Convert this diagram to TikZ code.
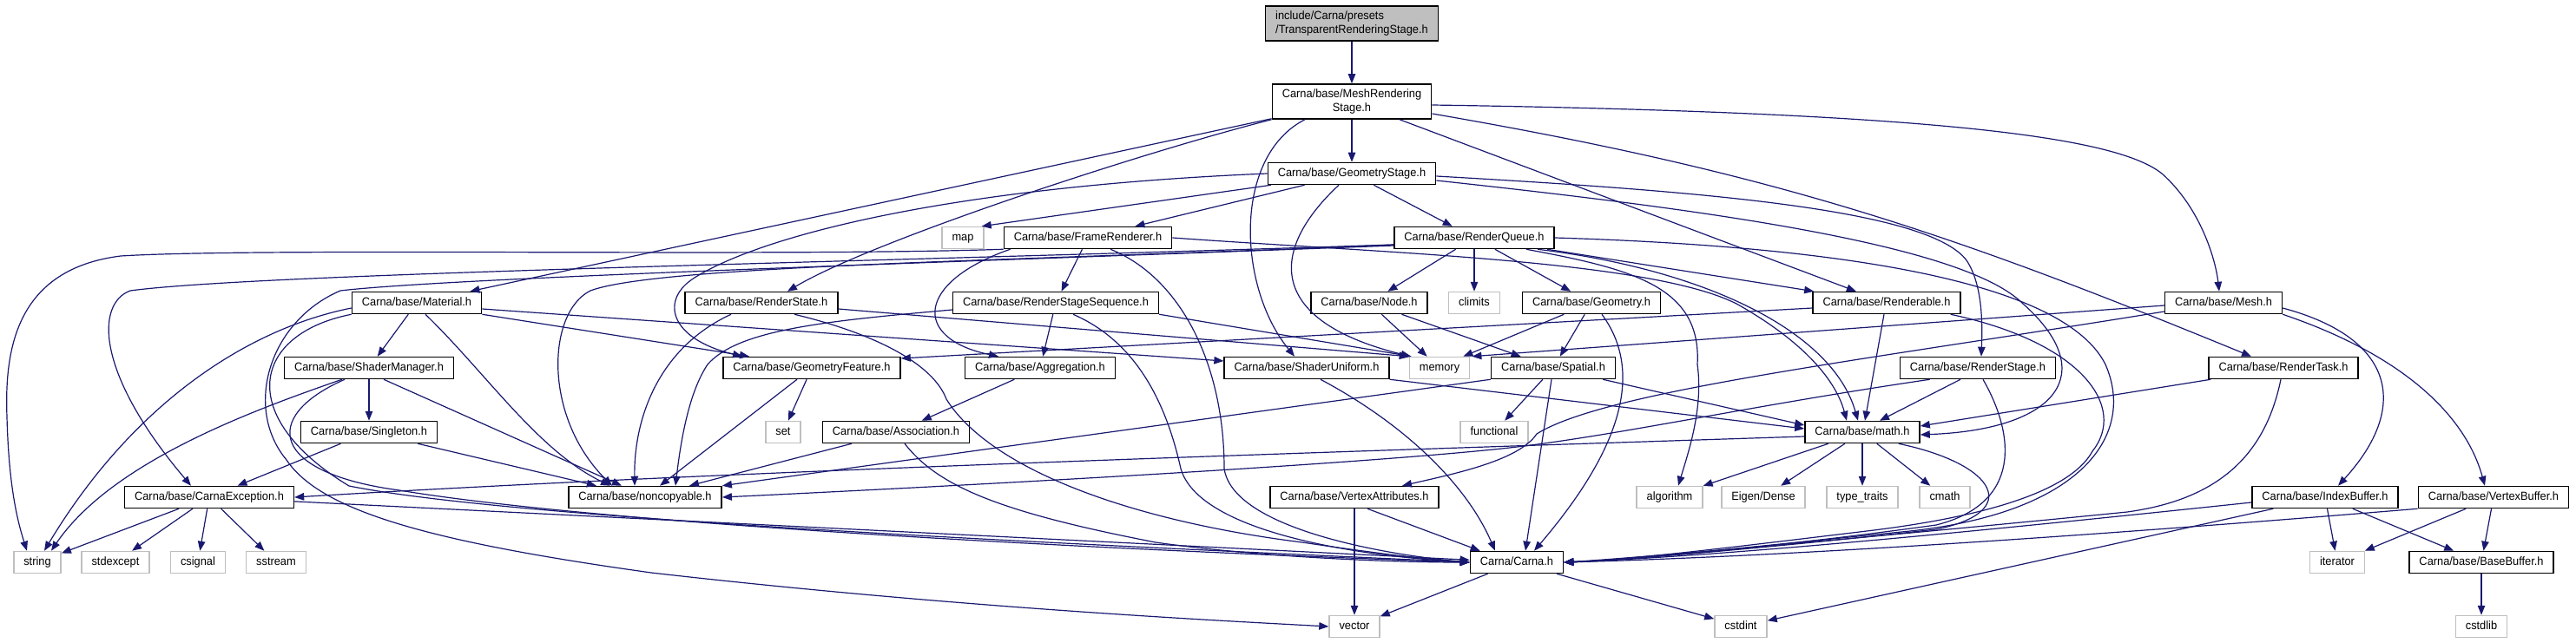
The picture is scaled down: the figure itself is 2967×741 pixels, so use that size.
\documentclass[tikz,border=0pt]{standalone}
\usepackage{fontspec}
\setmainfont[FakeStretch=0.95]{Liberation Sans}
\usetikzlibrary{arrows.meta,calc}
\definecolor{edgecol}{HTML}{191970}
\definecolor{syscol}{HTML}{BFBFBF}
\definecolor{rootfill}{HTML}{BFBFBF}
\tikzset{
 box/.style={draw=black, fill=white, line width=1.5pt, inner xsep=11.5pt, inner ysep=0pt, minimum height=25pt, font=\fontsize{13.5}{15.5}\selectfont},
 hdr/.style={box, text height=9.9pt, text depth=2.8pt},
 sys/.style={hdr, draw=syscol},
 two/.style={box, minimum height=40pt, inner ysep=3pt},
 dep/.style={draw=edgecol, line width=1.2pt, -{Triangle[length=11pt,width=8.5pt]}}
}
\begin{document}
\begin{tikzpicture}[x=1pt,y=-1pt]
\fill[white] (0,0) rectangle (2967,741);
\useasboundingbox (0,0) rectangle (2967,741);
% nodes
\node[two,fill=rootfill,align=left] (trs) at (1557,27) {include/Carna/presets\\/TransparentRenderingStage.h};
\node[two,align=center] (mrs) at (1557,117) {Carna/base/MeshRendering\\Stage.h};
\node[hdr] (gs) at (1557,200) {Carna/base/GeometryStage.h};
\node[sys] (map) at (1109,274) {map};
\node[hdr] (fr) at (1253,274) {Carna/base/FrameRenderer.h};
\node[hdr] (rq) at (1698,274) {Carna/base/RenderQueue.h};
\node[hdr] (mat) at (480,349) {Carna/base/Material.h};
\node[hdr] (rstate) at (877,349) {Carna/base/RenderState.h};
\node[hdr] (rss) at (1216,349) {Carna/base/RenderStageSequence.h};
\node[hdr] (nodeh) at (1577,349) {Carna/base/Node.h};
\node[sys] (climits) at (1698,349) {climits};
\node[hdr] (geom) at (1833,349) {Carna/base/Geometry.h};
\node[hdr] (rend) at (2173,349) {Carna/base/Renderable.h};
\node[hdr] (mesh) at (2561,349) {Carna/base/Mesh.h};
\node[hdr] (shm) at (425,424) {Carna/base/ShaderManager.h};
\node[hdr] (gf) at (935,424) {Carna/base/GeometryFeature.h};
\node[hdr] (agg) at (1198,424) {Carna/base/Aggregation.h};
\node[hdr] (su) at (1505,424) {Carna/base/ShaderUniform.h};
\node[sys] (memory) at (1658,424) {memory};
\node[hdr] (spatial) at (1789,424) {Carna/base/Spatial.h};
\node[hdr] (rstage) at (2278,424) {Carna/base/RenderStage.h};
\node[hdr] (rtask) at (2630,424) {Carna/base/RenderTask.h};
\node[hdr] (single) at (425,498) {Carna/base/Singleton.h};
\node[sys] (set) at (902,498) {set};
\node[hdr] (assoc) at (1032,498) {Carna/base/Association.h};
\node[sys] (functional) at (1721,498) {functional};
\node[hdr] (math) at (2145,498) {Carna/base/math.h};
\node[hdr] (cex) at (241,573) {Carna/base/CarnaException.h};
\node[hdr] (nonc) at (743,573) {Carna/base/noncopyable.h};
\node[hdr] (va) at (1560,573) {Carna/base/VertexAttributes.h};
\node[sys] (algo) at (1923,573) {algorithm};
\node[sys] (eigen) at (2031,573) {Eigen/Dense};
\node[sys] (tt) at (2145,573) {type\_traits};
\node[sys] (cmath) at (2240,573) {cmath};
\node[hdr] (ib) at (2678,573) {Carna/base/IndexBuffer.h};
\node[hdr] (vb) at (2872,573) {Carna/base/VertexBuffer.h};
\node[sys] (string) at (43,648) {string};
\node[sys] (stdexcept) at (133,648) {stdexcept};
\node[sys] (csignal) at (228,648) {csignal};
\node[sys] (sstream) at (318,648) {sstream};
\node[hdr] (carna) at (1747,648) {Carna/Carna.h};
\node[sys] (iterator) at (2692,648) {iterator};
\node[hdr] (bb) at (2858,648) {Carna/base/BaseBuffer.h};
\node[sys] (vector) at (1560,722) {vector};
\node[sys] (cstdint) at (2005,722) {cstdint};
\node[sys] (cstdlib) at (2858,722) {cstdlib};
% MeshRenderingStage
\draw[dep] (trs) -- (mrs);
\draw[dep] (mrs) -- (gs);
\draw[dep] (mrs) -- (mat);
\draw[dep] (mrs.south west) .. controls (1300,180) and (1000,280) .. ($(rstate.north)+(30,0)$);
\draw[dep] ($(mrs.south)+(-54,0)$) .. controls (1420,180) and (1425,330) .. ($(su.north)+(-14,0)$);
\draw[dep] (mrs) -- (rend);
\draw[dep] ($(mrs.east)+(0,4)$) .. controls (2250,130) and (2440,160) .. (2490,200) .. controls (2535,240) and (2552,300) .. ($(mesh.north)+(-5,0)$);
\draw[dep] ($(mrs.east)+(0,14)$) .. controls (2050,200) and (2250,270) .. ($(rtask.north)+(-37,0)$);
% GeometryStage
\draw[dep] (gs) -- ($(map.north east)+(-3,0)$);
\draw[dep] (gs) -- (fr);
\draw[dep] (gs) -- (rq);
\draw[dep] ($(gs.south)+(-15,0)$) .. controls (1460,290) and (1460,370) .. ($(memory.north west)+(2,0)$);
\draw[dep] (gs.west) .. controls (1100,215) and (880,270) .. (800,320) .. controls (760,345) and (770,390) .. ($(gf.north)+(-80,0)$);
\draw[dep] ($(gs.east)+(0,3)$) .. controls (1950,220) and (2220,240) .. (2265,300) .. controls (2285,330) and (2283,380) .. ($(rstage.north)+(4,0)$);
\draw[dep] ($(gs.east)+(0,8)$) .. controls (1950,240) and (2260,280) .. (2330,350) .. controls (2420,430) and (2370,495) .. ($(math.east)+(0,3)$);
% FrameRenderer
\draw[dep] (fr) -- (rss);
\draw[dep] ($(fr.south west)+(8,0)$) .. controls (1055,325) and (1050,390) .. ($(agg.north)+(-48,0)$);
\draw[dep] ($(fr.south)+(26,0)$) .. controls (1360,320) and (1410,420) .. (1410,540) .. controls (1420,610) and (1600,640) .. (carna.west);
\draw[dep] (fr.east) .. controls (1600,292) and (1900,300) .. (2000,350) .. controls (2080,395) and (2115,440) .. ($(math.north)+(-18,0)$);
\draw[dep] (fr.south west) .. controls (900,296) and (300,285) .. (139,295) .. controls (20,310) and (5,400) .. (8,480) .. controls (10,560) and (20,600) .. ($(string.north)+(-12,0)$);
% RenderQueue
\draw[dep] (rq) -- (nodeh);
\draw[dep] (rq) -- (climits);
\draw[dep] (rq) -- (geom);
\draw[dep] (rq) -- (rend);
\draw[dep] ($(rq.south east)+(-20,0)$) .. controls (1960,310) and (2110,380) .. ($(math.north)+(-5,0)$);
\draw[dep] ($(rq.south east)+(-33,0)$) .. controls (1880,310) and (1960,330) .. (1955,420) .. controls (1962,470) and (1945,520) .. ($(algo.north)+(10,0)$);
\draw[dep] (rq.east) .. controls (2150,285) and (2380,330) .. (2425,420) .. controls (2460,500) and (2400,590) .. (2200,612) .. controls (2000,632) and (1880,645) .. (carna.east);
\draw[dep] ($(rq.west)+(0,8)$) .. controls (1200,300) and (760,305) .. (680,335) .. controls (630,360) and (625,480) .. ($(nonc.north)+(-38,0)$);
\draw[dep] ($(rq.west)+(0,8)$) .. controls (1000,302) and (300,315) .. (150,335) .. controls (110,350) and (110,430) .. ($(cex.north)+(-21,0)$);
\draw[dep] ($(rq.west)+(0,9)$) .. controls (1100,302) and (520,320) .. (392,335) .. controls (310,370) and (280,470) .. (330,530) .. controls (370,590) and (500,625) .. (750,660) .. controls (1100,700) and (1400,715) .. (vector.west);
% Material
\draw[dep] (mat) -- (shm);
\draw[dep] ($(mat.south)+(10,0)$) .. controls (560,430) and (620,520) .. ($(nonc.north)+(-40,0)$);
\draw[dep] ($(mat.west)+(0,6)$) .. controls (280,380) and (150,470) .. ($(string.north)+(8,0)$);
\draw[dep] (mat.south west) .. controls (290,385) and (270,480) .. (402,560) .. controls (600,600) and (1300,630) .. (carna.west);
\draw[dep] ($(mat.east)+(0,7)$) -- ($(su.west)+(0,-8)$);
\draw[dep] (mat.south east) -- ($(gf.north)+(-72,0)$);
% RenderState
\draw[dep] ($(rstate.south)+(-35,0)$) .. controls (760,400) and (730,480) .. ($(nonc.north)+(-12,0)$);
\draw[dep] ($(rstate.south)+(38,0)$) .. controls (1010,385) and (1075,420) .. (1090,460) .. controls (1140,540) and (1300,600) .. (1500,625) .. controls (1600,640) and (1660,646) .. (carna.west);
\draw[dep] ($(rstate.east)+(0,7)$) -- (memory.north west);
% RenderStageSequence
\draw[dep] (rss) -- (agg);
\draw[dep] ($(rss.west)+(0,8)$) .. controls (950,370) and (850,380) .. (815,420) .. controls (795,450) and (785,500) .. ($(nonc.north)+(35,0)$);
\draw[dep] (rss.south east) -- ($(memory.north west)+(3,0)$);
\draw[dep] ($(rss.south)+(20,0)$) .. controls (1300,390) and (1340,450) .. (1360,540) .. controls (1380,610) and (1550,640) .. (carna.west);
% Node, Geometry
\draw[dep] (nodeh) -- (memory);
\draw[dep] (nodeh) -- (spatial);
\draw[dep] (geom) -- ($(memory.north east)+(-8,0)$);
\draw[dep] (geom) -- (spatial);
\draw[dep] ($(geom.south)+(12,0)$) .. controls (1895,430) and (1865,520) .. ($(carna.north)+(20,0)$);
% Renderable
\draw[dep] ($(rend.west)+(0,6)$) -- ($(gf.east)+(0,-11)$);
\draw[dep] ($(rend.south)+(-3,0)$) -- ($(math.north)+(3,0)$);
\draw[dep] ($(rend.south east)+(-12,0)$) .. controls (2400,395) and (2450,470) .. (2410,520) .. controls (2380,575) and (2250,600) .. (2150,612) .. controls (2000,630) and (1880,645) .. (carna.east);
% Mesh
\draw[dep] ($(mesh.west)+(0,3)$) -- ($(memory.north east)+(2,0)$);
\draw[dep] ($(mesh.west)+(0,10)$) .. controls (2150,415) and (1850,450) .. (1770,500) .. controls (1750,530) and (1680,545) .. ($(va.north)+(55,0)$);
\draw[dep] ($(mesh.east)+(0,6)$) .. controls (2760,390) and (2775,470) .. ($(ib.north)+(15,0)$);
\draw[dep] (mesh.south east) .. controls (2770,410) and (2840,480) .. ($(vb.north)+(-10,0)$);
% ShaderManager
\draw[dep] (shm) -- (single);
\draw[dep] ($(shm.south west)+(67,0)$) .. controls (300,470) and (130,530) .. ($(string.north)+(16,0)$);
\draw[dep] ($(shm.south)+(17,0)$) -- ($(nonc.north)+(-27,0)$);
\draw[dep] ($(shm.south)+(-28,0)$) .. controls (300,480) and (310,545) .. (460,565) .. controls (700,605) and (1300,635) .. (carna.west);
% GeometryFeature, Aggregation
\draw[dep] (gf) -- (set);
\draw[dep] (gf) -- (nonc);
\draw[dep] (agg) -- (assoc);
% ShaderUniform
\draw[dep] (su.south east) -- ($(math.west)+(0,-4)$);
\draw[dep] ($(su.south)+(16,0)$) .. controls (1620,490) and (1690,560) .. ($(carna.north)+(-25,0)$);
% Spatial
\draw[dep] (spatial) -- (functional);
\draw[dep] ($(spatial.south)+(-2,0)$) -- ($(carna.north)+(10,0)$);
\draw[dep] ($(spatial.south east)+(-15,0)$) -- ($(math.west)+(0,-8)$);
\draw[dep] (spatial.south west) -- (nonc.north east);
% RenderStage
\draw[dep] ($(rstage.south west)+(35,0)$) .. controls (2000,470) and (1850,505) .. (1720,518) .. controls (1500,540) and (1000,565) .. (nonc.east);
\draw[dep] ($(rstage.south)+(-20,0)$) -- ($(math.north)+(20,0)$);
\draw[dep] ($(rstage.south)+(6,0)$) .. controls (2320,500) and (2330,580) .. (2230,605) .. controls (2050,630) and (1880,645) .. (carna.east);
% RenderTask
\draw[dep] ($(rtask.south west)+(3,0)$) -- ($(math.east)+(0,-7)$);
\draw[dep] ($(rtask.south)+(-3,0)$) .. controls (2610,520) and (2560,575) .. (2450,590) .. controls (2200,615) and (1900,642) .. (carna.east);
% Singleton, Association
\draw[dep] (single) -- (cex);
\draw[dep] (single) -- (nonc);
\draw[dep] (assoc) -- (nonc);
\draw[dep] ($(assoc.south)+(10,0)$) .. controls (1080,560) and (1150,590) .. (1331,625) .. controls (1450,642) and (1600,648) .. (carna.west);
% math
\draw[dep] ($(math.west)+(0,5)$) .. controls (1400,525) and (800,545) .. (cex.east);
\draw[dep] (math) -- (algo);
\draw[dep] (math) -- (eigen);
\draw[dep] (math) -- (tt);
\draw[dep] (math) -- (cmath);
\draw[dep] ($(math.south east)+(-25,0)$) .. controls (2300,535) and (2330,590) .. (2230,610) .. controls (2050,630) and (1880,645) .. (carna.east);
% CarnaException
\draw[dep] (cex) -- (string);
\draw[dep] (cex) -- (stdexcept);
\draw[dep] (cex) -- (csignal);
\draw[dep] (cex) -- (sstream);
\draw[dep] (cex) -- (carna);
% VertexAttributes
\draw[dep] (va) -- (vector);
\draw[dep] ($(va.south)+(15,0)$) -- ($(carna.north west)+(12,0)$);
% Buffers
\draw[dep] ($(ib.west)+(0,6)$) .. controls (2300,610) and (2000,640) .. (carna.east);
\draw[dep] (ib) -- (cstdint);
\draw[dep] (ib) -- (iterator);
\draw[dep] (ib) -- (bb);
\draw[dep] (vb.south west) .. controls (2500,610) and (2100,640) .. (carna.east);
\draw[dep] (vb) -- (iterator);
\draw[dep] (vb) -- (bb);
\draw[dep] (bb) -- (cstdlib);
% Carna.h
\draw[dep] (carna) -- (vector);
\draw[dep] (carna) -- (cstdint);
\end{tikzpicture}
\end{document}
